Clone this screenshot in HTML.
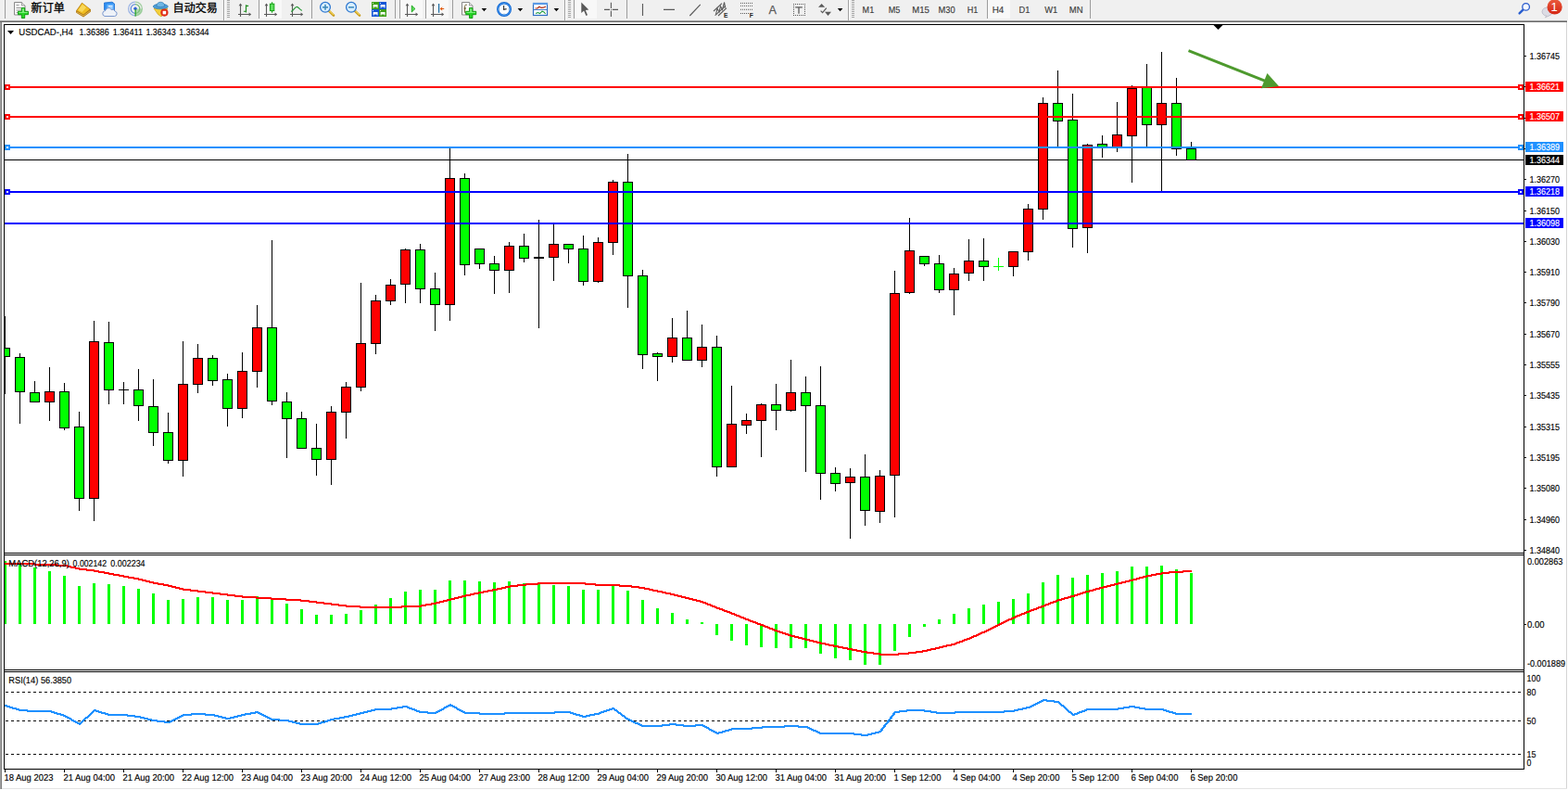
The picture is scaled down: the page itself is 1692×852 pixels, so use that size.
<!DOCTYPE html>
<html><head><meta charset="utf-8"><title>USDCAD-,H4</title>
<style>
html,body{margin:0;padding:0;background:#fff;overflow:hidden}
body{width:1692px;height:852px;position:relative;font-family:"Liberation Sans",sans-serif}
svg{position:absolute;left:0;top:0;display:block}
svg text{font-family:"Liberation Sans",sans-serif;white-space:pre}
</style></head><body>
<svg width="1692" height="852" viewBox="0 0 1692 852" shape-rendering="crispEdges">
<rect x="0" y="0" width="1692" height="22" fill="#f0f0f0"/>
<rect x="0" y="22" width="1691" height="1" fill="#a0a0a0"/>
<rect x="0" y="23" width="1691" height="1" fill="#696969"/>
<rect x="0" y="24" width="1" height="827" fill="#a0a0a0"/>
<rect x="1" y="24" width="1" height="827" fill="#808080"/>
<rect x="1690" y="24" width="1" height="827" fill="#d4d4d4"/>
<rect x="2" y="850" width="1689" height="1" fill="#e3e3e3"/>
<rect x="5" y="172" width="1639" height="1" fill="#000"/>
<g id="candles">
<rect x="5" y="341" width="1" height="84" fill="#000"/>
<rect x="5" y="375" width="6" height="10" fill="#000"/>
<rect x="5" y="376" width="5" height="8" fill="#00ff00"/>
<rect x="21" y="381" width="1" height="76" fill="#000"/>
<rect x="16" y="385" width="11" height="38" fill="#000"/>
<rect x="17" y="386" width="9" height="36" fill="#00ff00"/>
<rect x="37" y="411" width="1" height="23" fill="#000"/>
<rect x="32" y="423" width="11" height="11" fill="#000"/>
<rect x="33" y="424" width="9" height="9" fill="#00ff00"/>
<rect x="53" y="396" width="1" height="58" fill="#000"/>
<rect x="48" y="422" width="11" height="12" fill="#000"/>
<rect x="49" y="423" width="9" height="10" fill="#ff0000"/>
<rect x="69" y="413" width="1" height="51" fill="#000"/>
<rect x="64" y="422" width="11" height="40" fill="#000"/>
<rect x="65" y="423" width="9" height="38" fill="#00ff00"/>
<rect x="85" y="444" width="1" height="107" fill="#000"/>
<rect x="80" y="460" width="11" height="78" fill="#000"/>
<rect x="81" y="461" width="9" height="76" fill="#00ff00"/>
<rect x="101" y="346" width="1" height="216" fill="#000"/>
<rect x="96" y="368" width="11" height="170" fill="#000"/>
<rect x="97" y="369" width="9" height="168" fill="#ff0000"/>
<rect x="117" y="347" width="1" height="89" fill="#000"/>
<rect x="112" y="369" width="11" height="52" fill="#000"/>
<rect x="113" y="370" width="9" height="50" fill="#00ff00"/>
<rect x="133" y="412" width="1" height="24" fill="#000"/>
<rect x="128" y="420" width="11" height="1" fill="#000"/>
<rect x="149" y="398" width="1" height="56" fill="#000"/>
<rect x="144" y="420" width="11" height="18" fill="#000"/>
<rect x="145" y="421" width="9" height="16" fill="#00ff00"/>
<rect x="165" y="409" width="1" height="72" fill="#000"/>
<rect x="160" y="438" width="11" height="29" fill="#000"/>
<rect x="161" y="439" width="9" height="27" fill="#00ff00"/>
<rect x="181" y="445" width="1" height="55" fill="#000"/>
<rect x="176" y="466" width="11" height="31" fill="#000"/>
<rect x="177" y="467" width="9" height="29" fill="#00ff00"/>
<rect x="197" y="368" width="1" height="146" fill="#000"/>
<rect x="192" y="414" width="11" height="83" fill="#000"/>
<rect x="193" y="415" width="9" height="81" fill="#ff0000"/>
<rect x="213" y="371" width="1" height="53" fill="#000"/>
<rect x="208" y="386" width="11" height="29" fill="#000"/>
<rect x="209" y="387" width="9" height="27" fill="#ff0000"/>
<rect x="229" y="383" width="1" height="33" fill="#000"/>
<rect x="224" y="386" width="11" height="25" fill="#000"/>
<rect x="225" y="387" width="9" height="23" fill="#00ff00"/>
<rect x="245" y="403" width="1" height="57" fill="#000"/>
<rect x="240" y="409" width="11" height="32" fill="#000"/>
<rect x="241" y="410" width="9" height="30" fill="#00ff00"/>
<rect x="261" y="380" width="1" height="71" fill="#000"/>
<rect x="256" y="400" width="11" height="41" fill="#000"/>
<rect x="257" y="401" width="9" height="39" fill="#ff0000"/>
<rect x="277" y="329" width="1" height="89" fill="#000"/>
<rect x="272" y="353" width="11" height="48" fill="#000"/>
<rect x="273" y="354" width="9" height="46" fill="#ff0000"/>
<rect x="293" y="259" width="1" height="178" fill="#000"/>
<rect x="288" y="353" width="11" height="80" fill="#000"/>
<rect x="289" y="354" width="9" height="78" fill="#00ff00"/>
<rect x="309" y="423" width="1" height="71" fill="#000"/>
<rect x="304" y="433" width="11" height="19" fill="#000"/>
<rect x="305" y="434" width="9" height="17" fill="#00ff00"/>
<rect x="325" y="444" width="1" height="40" fill="#000"/>
<rect x="320" y="451" width="11" height="33" fill="#000"/>
<rect x="321" y="452" width="9" height="31" fill="#00ff00"/>
<rect x="341" y="457" width="1" height="56" fill="#000"/>
<rect x="336" y="483" width="11" height="13" fill="#000"/>
<rect x="337" y="484" width="9" height="11" fill="#00ff00"/>
<rect x="357" y="438" width="1" height="85" fill="#000"/>
<rect x="352" y="444" width="11" height="52" fill="#000"/>
<rect x="353" y="445" width="9" height="50" fill="#ff0000"/>
<rect x="373" y="412" width="1" height="61" fill="#000"/>
<rect x="368" y="417" width="11" height="28" fill="#000"/>
<rect x="369" y="418" width="9" height="26" fill="#ff0000"/>
<rect x="389" y="305" width="1" height="117" fill="#000"/>
<rect x="384" y="370" width="11" height="48" fill="#000"/>
<rect x="385" y="371" width="9" height="46" fill="#ff0000"/>
<rect x="405" y="318" width="1" height="64" fill="#000"/>
<rect x="400" y="324" width="11" height="47" fill="#000"/>
<rect x="401" y="325" width="9" height="45" fill="#ff0000"/>
<rect x="421" y="301" width="1" height="28" fill="#000"/>
<rect x="416" y="307" width="11" height="18" fill="#000"/>
<rect x="417" y="308" width="9" height="16" fill="#ff0000"/>
<rect x="437" y="268" width="1" height="59" fill="#000"/>
<rect x="432" y="269" width="11" height="38" fill="#000"/>
<rect x="433" y="270" width="9" height="36" fill="#ff0000"/>
<rect x="453" y="263" width="1" height="64" fill="#000"/>
<rect x="448" y="269" width="11" height="43" fill="#000"/>
<rect x="449" y="270" width="9" height="41" fill="#00ff00"/>
<rect x="469" y="294" width="1" height="63" fill="#000"/>
<rect x="464" y="311" width="11" height="18" fill="#000"/>
<rect x="465" y="312" width="9" height="16" fill="#00ff00"/>
<rect x="485" y="160" width="1" height="186" fill="#000"/>
<rect x="480" y="192" width="11" height="137" fill="#000"/>
<rect x="481" y="193" width="9" height="135" fill="#ff0000"/>
<rect x="501" y="187" width="1" height="110" fill="#000"/>
<rect x="496" y="192" width="11" height="94" fill="#000"/>
<rect x="497" y="193" width="9" height="92" fill="#00ff00"/>
<rect x="517" y="268" width="1" height="22" fill="#000"/>
<rect x="512" y="268" width="11" height="17" fill="#000"/>
<rect x="513" y="269" width="9" height="15" fill="#00ff00"/>
<rect x="533" y="276" width="1" height="41" fill="#000"/>
<rect x="528" y="284" width="11" height="8" fill="#000"/>
<rect x="529" y="285" width="9" height="6" fill="#00ff00"/>
<rect x="549" y="261" width="1" height="55" fill="#000"/>
<rect x="544" y="265" width="11" height="27" fill="#000"/>
<rect x="545" y="266" width="9" height="25" fill="#ff0000"/>
<rect x="565" y="252" width="1" height="31" fill="#000"/>
<rect x="560" y="265" width="11" height="14" fill="#000"/>
<rect x="561" y="266" width="9" height="12" fill="#00ff00"/>
<rect x="581" y="237" width="1" height="117" fill="#000"/>
<rect x="576" y="277" width="11" height="2" fill="#000"/>
<rect x="597" y="242" width="1" height="61" fill="#000"/>
<rect x="592" y="263" width="11" height="15" fill="#000"/>
<rect x="593" y="264" width="9" height="13" fill="#ff0000"/>
<rect x="613" y="263" width="1" height="21" fill="#000"/>
<rect x="608" y="263" width="11" height="6" fill="#000"/>
<rect x="609" y="264" width="9" height="4" fill="#00ff00"/>
<rect x="629" y="254" width="1" height="54" fill="#000"/>
<rect x="624" y="268" width="11" height="36" fill="#000"/>
<rect x="625" y="269" width="9" height="34" fill="#00ff00"/>
<rect x="645" y="256" width="1" height="49" fill="#000"/>
<rect x="640" y="261" width="11" height="43" fill="#000"/>
<rect x="641" y="262" width="9" height="41" fill="#ff0000"/>
<rect x="661" y="194" width="1" height="81" fill="#000"/>
<rect x="656" y="196" width="11" height="66" fill="#000"/>
<rect x="657" y="197" width="9" height="64" fill="#ff0000"/>
<rect x="677" y="166" width="1" height="166" fill="#000"/>
<rect x="672" y="196" width="11" height="102" fill="#000"/>
<rect x="673" y="197" width="9" height="100" fill="#00ff00"/>
<rect x="693" y="291" width="1" height="107" fill="#000"/>
<rect x="688" y="297" width="11" height="86" fill="#000"/>
<rect x="689" y="298" width="9" height="84" fill="#00ff00"/>
<rect x="709" y="380" width="1" height="31" fill="#000"/>
<rect x="704" y="381" width="11" height="4" fill="#000"/>
<rect x="705" y="382" width="9" height="2" fill="#00ff00"/>
<rect x="725" y="343" width="1" height="48" fill="#000"/>
<rect x="720" y="364" width="11" height="21" fill="#000"/>
<rect x="721" y="365" width="9" height="19" fill="#ff0000"/>
<rect x="741" y="335" width="1" height="54" fill="#000"/>
<rect x="736" y="364" width="11" height="25" fill="#000"/>
<rect x="737" y="365" width="9" height="23" fill="#00ff00"/>
<rect x="757" y="350" width="1" height="46" fill="#000"/>
<rect x="752" y="374" width="11" height="15" fill="#000"/>
<rect x="753" y="375" width="9" height="13" fill="#ff0000"/>
<rect x="773" y="362" width="1" height="152" fill="#000"/>
<rect x="768" y="374" width="11" height="130" fill="#000"/>
<rect x="769" y="375" width="9" height="128" fill="#00ff00"/>
<rect x="789" y="416" width="1" height="88" fill="#000"/>
<rect x="784" y="457" width="11" height="47" fill="#000"/>
<rect x="785" y="458" width="9" height="45" fill="#ff0000"/>
<rect x="805" y="446" width="1" height="22" fill="#000"/>
<rect x="800" y="453" width="11" height="6" fill="#000"/>
<rect x="801" y="454" width="9" height="4" fill="#ff0000"/>
<rect x="821" y="435" width="1" height="58" fill="#000"/>
<rect x="816" y="436" width="11" height="18" fill="#000"/>
<rect x="817" y="437" width="9" height="16" fill="#ff0000"/>
<rect x="837" y="414" width="1" height="50" fill="#000"/>
<rect x="832" y="436" width="11" height="7" fill="#000"/>
<rect x="833" y="437" width="9" height="5" fill="#00ff00"/>
<rect x="853" y="388" width="1" height="56" fill="#000"/>
<rect x="848" y="423" width="11" height="20" fill="#000"/>
<rect x="849" y="424" width="9" height="18" fill="#ff0000"/>
<rect x="869" y="406" width="1" height="103" fill="#000"/>
<rect x="864" y="423" width="11" height="15" fill="#000"/>
<rect x="865" y="424" width="9" height="13" fill="#00ff00"/>
<rect x="885" y="395" width="1" height="144" fill="#000"/>
<rect x="880" y="437" width="11" height="74" fill="#000"/>
<rect x="881" y="438" width="9" height="72" fill="#00ff00"/>
<rect x="901" y="504" width="1" height="26" fill="#000"/>
<rect x="896" y="510" width="11" height="12" fill="#000"/>
<rect x="897" y="511" width="9" height="10" fill="#00ff00"/>
<rect x="917" y="505" width="1" height="76" fill="#000"/>
<rect x="912" y="514" width="11" height="7" fill="#000"/>
<rect x="913" y="515" width="9" height="5" fill="#ff0000"/>
<rect x="933" y="490" width="1" height="77" fill="#000"/>
<rect x="928" y="514" width="11" height="37" fill="#000"/>
<rect x="929" y="515" width="9" height="35" fill="#00ff00"/>
<rect x="949" y="507" width="1" height="57" fill="#000"/>
<rect x="944" y="513" width="11" height="39" fill="#000"/>
<rect x="945" y="514" width="9" height="37" fill="#ff0000"/>
<rect x="965" y="292" width="1" height="266" fill="#000"/>
<rect x="960" y="316" width="11" height="197" fill="#000"/>
<rect x="961" y="317" width="9" height="195" fill="#ff0000"/>
<rect x="981" y="235" width="1" height="82" fill="#000"/>
<rect x="976" y="270" width="11" height="46" fill="#000"/>
<rect x="977" y="271" width="9" height="44" fill="#ff0000"/>
<rect x="997" y="276" width="1" height="11" fill="#000"/>
<rect x="992" y="276" width="11" height="9" fill="#000"/>
<rect x="993" y="277" width="9" height="7" fill="#00ff00"/>
<rect x="1013" y="275" width="1" height="41" fill="#000"/>
<rect x="1008" y="284" width="11" height="29" fill="#000"/>
<rect x="1009" y="285" width="9" height="27" fill="#00ff00"/>
<rect x="1029" y="289" width="1" height="51" fill="#000"/>
<rect x="1024" y="295" width="11" height="18" fill="#000"/>
<rect x="1025" y="296" width="9" height="16" fill="#ff0000"/>
<rect x="1045" y="258" width="1" height="45" fill="#000"/>
<rect x="1040" y="281" width="11" height="14" fill="#000"/>
<rect x="1041" y="282" width="9" height="12" fill="#ff0000"/>
<rect x="1061" y="257" width="1" height="46" fill="#000"/>
<rect x="1056" y="281" width="11" height="7" fill="#000"/>
<rect x="1057" y="282" width="9" height="5" fill="#00ff00"/>
<rect x="1077" y="278" width="1" height="14" fill="#00ff00"/>
<rect x="1072" y="287" width="11" height="1" fill="#00ff00"/>
<rect x="1093" y="271" width="1" height="27" fill="#000"/>
<rect x="1088" y="271" width="11" height="17" fill="#000"/>
<rect x="1089" y="272" width="9" height="15" fill="#ff0000"/>
<rect x="1109" y="220" width="1" height="61" fill="#000"/>
<rect x="1104" y="225" width="11" height="47" fill="#000"/>
<rect x="1105" y="226" width="9" height="45" fill="#ff0000"/>
<rect x="1125" y="105" width="1" height="132" fill="#000"/>
<rect x="1120" y="111" width="11" height="115" fill="#000"/>
<rect x="1121" y="112" width="9" height="113" fill="#ff0000"/>
<rect x="1141" y="76" width="1" height="82" fill="#000"/>
<rect x="1136" y="111" width="11" height="20" fill="#000"/>
<rect x="1137" y="112" width="9" height="18" fill="#00ff00"/>
<rect x="1157" y="101" width="1" height="166" fill="#000"/>
<rect x="1152" y="129" width="11" height="118" fill="#000"/>
<rect x="1153" y="130" width="9" height="116" fill="#00ff00"/>
<rect x="1173" y="155" width="1" height="118" fill="#000"/>
<rect x="1168" y="156" width="11" height="90" fill="#000"/>
<rect x="1169" y="157" width="9" height="88" fill="#ff0000"/>
<rect x="1189" y="146" width="1" height="24" fill="#000"/>
<rect x="1184" y="155" width="11" height="4" fill="#000"/>
<rect x="1185" y="156" width="9" height="2" fill="#00ff00"/>
<rect x="1205" y="110" width="1" height="54" fill="#000"/>
<rect x="1200" y="145" width="11" height="14" fill="#000"/>
<rect x="1201" y="146" width="9" height="12" fill="#ff0000"/>
<rect x="1221" y="92" width="1" height="105" fill="#000"/>
<rect x="1216" y="95" width="11" height="52" fill="#000"/>
<rect x="1217" y="96" width="9" height="50" fill="#ff0000"/>
<rect x="1237" y="69" width="1" height="89" fill="#000"/>
<rect x="1232" y="94" width="11" height="41" fill="#000"/>
<rect x="1233" y="95" width="9" height="39" fill="#00ff00"/>
<rect x="1253" y="56" width="1" height="150" fill="#000"/>
<rect x="1248" y="111" width="11" height="24" fill="#000"/>
<rect x="1249" y="112" width="9" height="22" fill="#ff0000"/>
<rect x="1269" y="84" width="1" height="84" fill="#000"/>
<rect x="1264" y="111" width="11" height="50" fill="#000"/>
<rect x="1265" y="112" width="9" height="48" fill="#00ff00"/>
<rect x="1285" y="153" width="1" height="20" fill="#000"/>
<rect x="1280" y="160" width="11" height="13" fill="#000"/>
<rect x="1281" y="161" width="9" height="11" fill="#00ff00"/>
</g>
<rect x="5" y="93" width="1639" height="2" fill="#ff0000"/>
<rect x="5" y="91" width="6" height="6" fill="#ff0000"/>
<rect x="7" y="93" width="2" height="2" fill="#fff"/>
<rect x="1638" y="91" width="6" height="6" fill="#ff0000"/>
<rect x="1640" y="93" width="2" height="2" fill="#fff"/>
<rect x="5" y="125" width="1639" height="2" fill="#ff0000"/>
<rect x="5" y="123" width="6" height="6" fill="#ff0000"/>
<rect x="7" y="125" width="2" height="2" fill="#fff"/>
<rect x="1638" y="123" width="6" height="6" fill="#ff0000"/>
<rect x="1640" y="125" width="2" height="2" fill="#fff"/>
<rect x="5" y="158" width="1639" height="2" fill="#1e90ff"/>
<rect x="5" y="156" width="6" height="6" fill="#1e90ff"/>
<rect x="7" y="158" width="2" height="2" fill="#fff"/>
<rect x="1638" y="156" width="6" height="6" fill="#1e90ff"/>
<rect x="1640" y="158" width="2" height="2" fill="#fff"/>
<rect x="5" y="206" width="1639" height="2" fill="#0000ff"/>
<rect x="5" y="204" width="6" height="6" fill="#0000ff"/>
<rect x="7" y="206" width="2" height="2" fill="#fff"/>
<rect x="1638" y="204" width="6" height="6" fill="#0000ff"/>
<rect x="1640" y="206" width="2" height="2" fill="#fff"/>
<rect x="5" y="240" width="1639" height="2" fill="#0000ff"/>
<g id="arrow" shape-rendering="auto"><line x1="1282.5" y1="54.6" x2="1366" y2="87.6" stroke="#4e9a2e" stroke-width="3"/><polygon points="1380,92.9 1367.4,79 1361,95.3" fill="#4e9a2e"/></g>
<rect x="5" y="605" width="2" height="68" fill="#00ff00"/>
<rect x="20" y="608" width="3" height="65" fill="#00ff00"/>
<rect x="36" y="612" width="3" height="61" fill="#00ff00"/>
<rect x="52" y="616" width="3" height="57" fill="#00ff00"/>
<rect x="68" y="621" width="3" height="52" fill="#00ff00"/>
<rect x="84" y="632" width="3" height="41" fill="#00ff00"/>
<rect x="100" y="629" width="3" height="44" fill="#00ff00"/>
<rect x="116" y="630" width="3" height="43" fill="#00ff00"/>
<rect x="132" y="632" width="3" height="41" fill="#00ff00"/>
<rect x="148" y="635" width="3" height="38" fill="#00ff00"/>
<rect x="164" y="640" width="3" height="33" fill="#00ff00"/>
<rect x="180" y="647" width="3" height="26" fill="#00ff00"/>
<rect x="196" y="646" width="3" height="27" fill="#00ff00"/>
<rect x="212" y="644" width="3" height="29" fill="#00ff00"/>
<rect x="228" y="644" width="3" height="29" fill="#00ff00"/>
<rect x="244" y="647" width="3" height="26" fill="#00ff00"/>
<rect x="260" y="647" width="3" height="26" fill="#00ff00"/>
<rect x="276" y="643" width="3" height="30" fill="#00ff00"/>
<rect x="292" y="646" width="3" height="27" fill="#00ff00"/>
<rect x="308" y="651" width="3" height="22" fill="#00ff00"/>
<rect x="324" y="657" width="3" height="16" fill="#00ff00"/>
<rect x="340" y="663" width="3" height="10" fill="#00ff00"/>
<rect x="356" y="663" width="3" height="10" fill="#00ff00"/>
<rect x="372" y="662" width="3" height="11" fill="#00ff00"/>
<rect x="388" y="658" width="3" height="15" fill="#00ff00"/>
<rect x="404" y="652" width="3" height="21" fill="#00ff00"/>
<rect x="420" y="645" width="3" height="28" fill="#00ff00"/>
<rect x="436" y="638" width="3" height="35" fill="#00ff00"/>
<rect x="452" y="636" width="3" height="37" fill="#00ff00"/>
<rect x="468" y="636" width="3" height="37" fill="#00ff00"/>
<rect x="484" y="626" width="3" height="47" fill="#00ff00"/>
<rect x="500" y="626" width="3" height="47" fill="#00ff00"/>
<rect x="516" y="627" width="3" height="46" fill="#00ff00"/>
<rect x="532" y="628" width="3" height="45" fill="#00ff00"/>
<rect x="548" y="627" width="3" height="46" fill="#00ff00"/>
<rect x="564" y="629" width="3" height="44" fill="#00ff00"/>
<rect x="580" y="630" width="3" height="43" fill="#00ff00"/>
<rect x="596" y="631" width="3" height="42" fill="#00ff00"/>
<rect x="612" y="632" width="3" height="41" fill="#00ff00"/>
<rect x="628" y="636" width="3" height="37" fill="#00ff00"/>
<rect x="644" y="636" width="3" height="37" fill="#00ff00"/>
<rect x="660" y="632" width="3" height="41" fill="#00ff00"/>
<rect x="676" y="637" width="3" height="36" fill="#00ff00"/>
<rect x="692" y="647" width="3" height="26" fill="#00ff00"/>
<rect x="708" y="656" width="3" height="17" fill="#00ff00"/>
<rect x="724" y="661" width="3" height="12" fill="#00ff00"/>
<rect x="740" y="668" width="3" height="5" fill="#00ff00"/>
<rect x="756" y="671" width="3" height="2" fill="#00ff00"/>
<rect x="772" y="673" width="3" height="12" fill="#00ff00"/>
<rect x="788" y="673" width="3" height="18" fill="#00ff00"/>
<rect x="804" y="673" width="3" height="23" fill="#00ff00"/>
<rect x="820" y="673" width="3" height="25" fill="#00ff00"/>
<rect x="836" y="673" width="3" height="26" fill="#00ff00"/>
<rect x="852" y="673" width="3" height="26" fill="#00ff00"/>
<rect x="868" y="673" width="3" height="26" fill="#00ff00"/>
<rect x="884" y="673" width="3" height="32" fill="#00ff00"/>
<rect x="900" y="673" width="3" height="37" fill="#00ff00"/>
<rect x="916" y="673" width="3" height="39" fill="#00ff00"/>
<rect x="932" y="673" width="3" height="44" fill="#00ff00"/>
<rect x="948" y="673" width="3" height="44" fill="#00ff00"/>
<rect x="964" y="673" width="3" height="29" fill="#00ff00"/>
<rect x="980" y="673" width="3" height="14" fill="#00ff00"/>
<rect x="996" y="673" width="3" height="3" fill="#00ff00"/>
<rect x="1012" y="668" width="3" height="5" fill="#00ff00"/>
<rect x="1028" y="662" width="3" height="11" fill="#00ff00"/>
<rect x="1044" y="656" width="3" height="17" fill="#00ff00"/>
<rect x="1060" y="652" width="3" height="21" fill="#00ff00"/>
<rect x="1076" y="649" width="3" height="24" fill="#00ff00"/>
<rect x="1092" y="646" width="3" height="27" fill="#00ff00"/>
<rect x="1108" y="640" width="3" height="33" fill="#00ff00"/>
<rect x="1124" y="628" width="3" height="45" fill="#00ff00"/>
<rect x="1140" y="620" width="3" height="53" fill="#00ff00"/>
<rect x="1156" y="623" width="3" height="50" fill="#00ff00"/>
<rect x="1172" y="620" width="3" height="53" fill="#00ff00"/>
<rect x="1188" y="618" width="3" height="55" fill="#00ff00"/>
<rect x="1204" y="616" width="3" height="57" fill="#00ff00"/>
<rect x="1220" y="611" width="3" height="62" fill="#00ff00"/>
<rect x="1236" y="611" width="3" height="62" fill="#00ff00"/>
<rect x="1252" y="610" width="3" height="63" fill="#00ff00"/>
<rect x="1268" y="614" width="3" height="59" fill="#00ff00"/>
<rect x="1284" y="618" width="3" height="55" fill="#00ff00"/>
<path d="M5 607h33v1h-33zM5 608h57v1h-57zM37 609h36v1h-36zM61 610h16v1h-16zM72 611h10v1h-10zM76 612h10v1h-10zM81 613h13v1h-13zM85 614h17v1h-17zM93 615h14v1h-14zM1276 615h10v1h-10zM101 616h12v1h-12zM1261 616h25v1h-25zM106 617h12v1h-12zM1253 617h24v1h-24zM112 618h11v1h-11zM1247 618h15v1h-15zM117 619h12v1h-12zM1242 619h12v1h-12zM122 620h12v1h-12zM1237 620h11v1h-11zM128 621h11v1h-11zM1233 621h10v1h-10zM133 622h12v1h-12zM1229 622h9v1h-9zM138 623h12v1h-12zM1226 623h8v1h-8zM144 624h10v1h-10zM1222 624h8v1h-8zM149 625h9v1h-9zM1218 625h9v1h-9zM153 626h9v1h-9zM1214 626h9v1h-9zM157 627h9v1h-9zM1210 627h9v1h-9zM161 628h10v1h-10zM580 628h52v1h-52zM1206 628h9v1h-9zM165 629h12v1h-12zM567 629h76v1h-76zM1202 629h9v1h-9zM170 630h12v1h-12zM558 630h23v1h-23zM631 630h38v1h-38zM1198 630h9v1h-9zM176 631h10v1h-10zM550 631h18v1h-18zM642 631h40v1h-40zM1194 631h9v1h-9zM181 632h9v1h-9zM545 632h14v1h-14zM668 632h22v1h-22zM1190 632h9v1h-9zM185 633h9v1h-9zM541 633h10v1h-10zM681 633h15v1h-15zM1186 633h9v1h-9zM189 634h9v1h-9zM536 634h10v1h-10zM689 634h12v1h-12zM1182 634h9v1h-9zM193 635h13v1h-13zM531 635h11v1h-11zM695 635h10v1h-10zM1179 635h8v1h-8zM197 636h17v1h-17zM526 636h11v1h-11zM700 636h10v1h-10zM1175 636h8v1h-8zM205 637h17v1h-17zM521 637h11v1h-11zM704 637h11v1h-11zM1171 637h9v1h-9zM213 638h17v1h-17zM516 638h11v1h-11zM709 638h10v1h-10zM1168 638h8v1h-8zM221 639h17v1h-17zM511 639h11v1h-11zM714 639h10v1h-10zM1165 639h7v1h-7zM229 640h17v1h-17zM507 640h10v1h-10zM718 640h10v1h-10zM1162 640h7v1h-7zM237 641h17v1h-17zM502 641h10v1h-10zM723 641h9v1h-9zM1159 641h7v1h-7zM245 642h17v1h-17zM498 642h10v1h-10zM727 642h9v1h-9zM1155 642h8v1h-8zM253 643h24v1h-24zM494 643h9v1h-9zM731 643h9v1h-9zM1152 643h8v1h-8zM261 644h32v1h-32zM490 644h9v1h-9zM735 644h9v1h-9zM1148 644h8v1h-8zM276 645h33v1h-33zM486 645h9v1h-9zM739 645h9v1h-9zM1145 645h8v1h-8zM292 646h33v1h-33zM482 646h9v1h-9zM743 646h9v1h-9zM1141 646h8v1h-8zM308 647h26v1h-26zM478 647h9v1h-9zM747 647h9v1h-9zM1139 647h7v1h-7zM324 648h18v1h-18zM474 648h9v1h-9zM751 648h8v1h-8zM1136 648h6v1h-6zM333 649h17v1h-17zM470 649h9v1h-9zM755 649h7v1h-7zM1133 649h7v1h-7zM341 650h17v1h-17zM465 650h10v1h-10zM758 650h6v1h-6zM1131 650h6v1h-6zM349 651h17v1h-17zM459 651h12v1h-12zM761 651h6v1h-6zM1128 651h6v1h-6zM357 652h17v1h-17zM454 652h12v1h-12zM763 652h6v1h-6zM1126 652h6v1h-6zM365 653h24v1h-24zM433 653h27v1h-27zM766 653h6v1h-6zM1123 653h6v1h-6zM373 654h82v1h-82zM768 654h6v1h-6zM1120 654h7v1h-7zM388 655h46v1h-46zM771 655h6v1h-6zM1118 655h6v1h-6zM773 656h7v1h-7zM1115 656h6v1h-6zM776 657h6v1h-6zM1112 657h7v1h-7zM779 658h6v1h-6zM1110 658h6v1h-6zM781 659h7v1h-7zM1107 659h6v1h-6zM784 660h6v1h-6zM1105 660h6v1h-6zM787 661h6v1h-6zM1102 661h6v1h-6zM789 662h6v1h-6zM1100 662h6v1h-6zM792 663h6v1h-6zM1097 663h6v1h-6zM794 664h6v1h-6zM1095 664h6v1h-6zM797 665h6v1h-6zM1093 665h5v1h-5zM799 666h6v1h-6zM1091 666h5v1h-5zM802 667h6v1h-6zM1088 667h6v1h-6zM804 668h6v1h-6zM1086 668h6v1h-6zM807 669h6v1h-6zM1084 669h5v1h-5zM809 670h7v1h-7zM1082 670h5v1h-5zM812 671h6v1h-6zM1080 671h5v1h-5zM815 672h6v1h-6zM1078 672h5v1h-5zM817 673h7v1h-7zM1076 673h5v1h-5zM820 674h6v1h-6zM1074 674h5v1h-5zM823 675h6v1h-6zM1072 675h5v1h-5zM825 676h6v1h-6zM1070 676h5v1h-5zM828 677h6v1h-6zM1068 677h5v1h-5zM830 678h6v1h-6zM1066 678h5v1h-5zM833 679h6v1h-6zM1064 679h5v1h-5zM835 680h7v1h-7zM1062 680h5v1h-5zM838 681h7v1h-7zM1059 681h6v1h-6zM841 682h7v1h-7zM1057 682h6v1h-6zM844 683h7v1h-7zM1055 683h5v1h-5zM847 684h7v1h-7zM1053 684h5v1h-5zM850 685h8v1h-8zM1050 685h6v1h-6zM853 686h9v1h-9zM1048 686h6v1h-6zM857 687h9v1h-9zM1046 687h5v1h-5zM861 688h9v1h-9zM1043 688h6v1h-6zM865 689h9v1h-9zM1040 689h7v1h-7zM869 690h9v1h-9zM1038 690h6v1h-6zM873 691h9v1h-9zM1035 691h6v1h-6zM877 692h9v1h-9zM1032 692h7v1h-7zM881 693h10v1h-10zM1030 693h6v1h-6zM885 694h10v1h-10zM1026 694h7v1h-7zM890 695h10v1h-10zM1021 695h10v1h-10zM894 696h11v1h-11zM1017 696h10v1h-10zM899 697h11v1h-11zM1013 697h9v1h-9zM904 698h11v1h-11zM1009 698h9v1h-9zM909 699h11v1h-11zM1004 699h10v1h-10zM914 700h11v1h-11zM1000 700h10v1h-10zM919 701h11v1h-11zM995 701h10v1h-10zM924 702h12v1h-12zM988 702h13v1h-13zM929 703h14v1h-14zM980 703h16v1h-16zM935 704h15v1h-15zM969 704h20v1h-20zM942 705h39v1h-39zM949 706h21v1h-21z" fill="#ff0000"/>
<line x1="6" y1="746.5" x2="1644" y2="746.5" stroke="#000" stroke-width="1" stroke-dasharray="3 3"/>
<line x1="6" y1="777.5" x2="1644" y2="777.5" stroke="#000" stroke-width="1" stroke-dasharray="3 3"/>
<line x1="6" y1="813.5" x2="1644" y2="813.5" stroke="#000" stroke-width="1" stroke-dasharray="3 3"/>
<path d="M1125 754h5v1h-5zM1123 755h15v1h-15zM1121 756h5v1h-5zM1129 756h14v1h-14zM1119 757h5v1h-5zM1137 757h7v1h-7zM1117 758h5v1h-5zM1142 758h3v1h-3zM485 759h2v1h-2zM1115 759h5v1h-5zM1143 759h3v1h-3zM5 760h3v1h-3zM483 760h6v1h-6zM1113 760h5v1h-5zM1144 760h4v1h-4zM5 761h6v1h-6zM434 761h6v1h-6zM481 761h10v1h-10zM1111 761h5v1h-5zM1145 761h4v1h-4zM1218 761h7v1h-7zM7 762h7v1h-7zM428 762h14v1h-14zM479 762h5v1h-5zM488 762h5v1h-5zM1107 762h7v1h-7zM1147 762h3v1h-3zM1212 762h18v1h-18zM10 763h8v1h-8zM422 763h13v1h-13zM439 763h6v1h-6zM478 763h4v1h-4zM490 763h4v1h-4zM660 763h3v1h-3zM1103 763h9v1h-9zM1148 763h3v1h-3zM1206 763h13v1h-13zM1224 763h12v1h-12zM13 764h8v1h-8zM404 764h25v1h-25zM441 764h7v1h-7zM476 764h4v1h-4zM492 764h4v1h-4zM657 764h7v1h-7zM1098 764h10v1h-10zM1149 764h3v1h-3zM1172 764h41v1h-41zM1229 764h27v1h-27zM17 765h13v1h-13zM101 765h3v1h-3zM400 765h23v1h-23zM444 765h6v1h-6zM474 765h5v1h-5zM493 765h5v1h-5zM654 765h7v1h-7zM662 765h4v1h-4zM978 765h20v1h-20zM1094 765h10v1h-10zM1150 765h3v1h-3zM1170 765h37v1h-37zM1235 765h24v1h-24zM20 766h36v1h-36zM100 766h7v1h-7zM396 766h9v1h-9zM447 766h6v1h-6zM472 766h5v1h-5zM495 766h5v1h-5zM651 766h7v1h-7zM663 766h4v1h-4zM970 766h35v1h-35zM1083 766h16v1h-16zM1151 766h3v1h-3zM1167 766h6v1h-6zM1255 766h7v1h-7zM29 767h30v1h-30zM99 767h3v1h-3zM103 767h7v1h-7zM275 767h4v1h-4zM392 767h9v1h-9zM449 767h13v1h-13zM470 767h5v1h-5zM497 767h5v1h-5zM598 767h18v1h-18zM648 767h7v1h-7zM665 767h3v1h-3zM965 767h14v1h-14zM997 767h14v1h-14zM1030 767h65v1h-65zM1152 767h4v1h-4zM1164 767h7v1h-7zM1258 767h8v1h-8zM55 768h7v1h-7zM98 768h3v1h-3zM106 768h8v1h-8zM270 768h11v1h-11zM388 768h9v1h-9zM452 768h21v1h-21zM499 768h19v1h-19zM544 768h75v1h-75zM646 768h6v1h-6zM666 768h4v1h-4zM964 768h7v1h-7zM1004 768h80v1h-80zM1153 768h4v1h-4zM1162 768h6v1h-6zM1261 768h8v1h-8zM58 769h8v1h-8zM97 769h3v1h-3zM109 769h8v1h-8zM206 769h16v1h-16zM264 769h12v1h-12zM278 769h5v1h-5zM384 769h9v1h-9zM461 769h10v1h-10zM501 769h98v1h-98zM615 769h7v1h-7zM641 769h8v1h-8zM667 769h4v1h-4zM963 769h3v2h-3zM1010 769h21v1h-21zM1155 769h3v1h-3zM1159 769h6v1h-6zM1265 769h21v1h-21zM61 770h8v1h-8zM96 770h3v1h-3zM113 770h25v1h-25zM197 770h35v1h-35zM260 770h11v1h-11zM280 770h5v1h-5zM380 770h9v1h-9zM517 770h28v1h-28zM618 770h8v1h-8zM636 770h11v1h-11zM669 770h3v1h-3zM1156 770h7v1h-7zM1268 770h18v1h-18zM65 771h6v1h-6zM95 771h3v1h-3zM116 771h30v1h-30zM195 771h12v1h-12zM221 771h15v1h-15zM256 771h9v1h-9zM282 771h5v1h-5zM376 771h9v1h-9zM621 771h8v1h-8zM632 771h10v1h-10zM670 771h4v1h-4zM962 771h3v1h-3zM1157 771h3v1h-3zM68 772h5v1h-5zM94 772h3v1h-3zM137 772h15v1h-15zM193 772h5v1h-5zM231 772h9v1h-9zM252 772h9v1h-9zM284 772h5v1h-5zM371 772h10v1h-10zM625 772h12v1h-12zM671 772h4v1h-4zM961 772h3v1h-3zM70 773h5v1h-5zM92 773h4v1h-4zM145 773h11v1h-11zM191 773h5v1h-5zM235 773h9v1h-9zM248 773h9v1h-9zM286 773h5v1h-5zM366 773h11v1h-11zM628 773h5v1h-5zM673 773h3v1h-3zM960 773h3v2h-3zM72 774h5v1h-5zM91 774h4v1h-4zM151 774h9v1h-9zM189 774h5v1h-5zM239 774h14v1h-14zM288 774h5v1h-5zM360 774h12v1h-12zM674 774h4v1h-4zM74 775h4v1h-4zM90 775h3v1h-3zM155 775h9v1h-9zM187 775h5v1h-5zM243 775h6v1h-6zM290 775h12v1h-12zM356 775h11v1h-11zM675 775h5v1h-5zM959 775h3v1h-3zM76 776h4v1h-4zM89 776h3v1h-3zM159 776h11v1h-11zM185 776h5v1h-5zM292 776h20v1h-20zM353 776h8v1h-8zM677 776h5v1h-5zM958 776h3v1h-3zM77 777h5v1h-5zM88 777h3v1h-3zM163 777h15v1h-15zM183 777h5v1h-5zM301 777h15v1h-15zM350 777h7v1h-7zM679 777h5v1h-5zM957 777h3v2h-3zM79 778h5v1h-5zM87 778h3v1h-3zM169 778h17v1h-17zM311 778h9v1h-9zM346 778h8v1h-8zM681 778h5v1h-5zM81 779h8v1h-8zM177 779h7v1h-7zM315 779h9v1h-9zM343 779h8v1h-8zM683 779h6v1h-6zM956 779h3v1h-3zM83 780h5v1h-5zM319 780h28v1h-28zM685 780h6v1h-6zM722 780h8v1h-8zM955 780h3v1h-3zM85 781h2v1h-2zM323 781h21v1h-21zM688 781h5v1h-5zM714 781h24v1h-24zM750 781h9v1h-9zM954 781h3v1h-3zM690 782h33v1h-33zM729 782h32v1h-32zM846 782h16v1h-16zM953 782h3v2h-3zM692 783h23v1h-23zM737 783h14v1h-14zM758 783h5v1h-5zM822 783h50v1h-50zM760 784h5v1h-5zM811 784h36v1h-36zM861 784h13v1h-13zM952 784h3v1h-3zM762 785h4v1h-4zM789 785h34v1h-34zM871 785h5v1h-5zM951 785h3v1h-3zM764 786h4v1h-4zM786 786h26v1h-26zM873 786h5v1h-5zM950 786h3v2h-3zM765 787h5v1h-5zM782 787h8v1h-8zM875 787h6v1h-6zM767 788h5v1h-5zM779 788h8v1h-8zM877 788h6v1h-6zM948 788h4v1h-4zM769 789h5v1h-5zM775 789h8v1h-8zM880 789h5v1h-5zM944 789h7v1h-7zM771 790h9v1h-9zM882 790h40v1h-40zM940 790h9v1h-9zM773 791h3v1h-3zM884 791h46v1h-46zM936 791h9v1h-9zM921 792h20v1h-20zM929 793h8v1h-8z" fill="#1e90ff"/>
<rect x="4" y="26" width="1" height="804" fill="#000"/>
<rect x="1644" y="26" width="1" height="804" fill="#000"/>
<rect x="4" y="26" width="1641" height="1" fill="#000"/>
<rect x="4" y="596" width="1641" height="1" fill="#000"/>
<rect x="4" y="598" width="1641" height="1" fill="#000"/>
<rect x="4" y="722" width="1641" height="1" fill="#000"/>
<rect x="4" y="724" width="1641" height="1" fill="#000"/>
<rect x="4" y="829" width="1641" height="1" fill="#000"/>
<polygon points="1309.5,27 1319.5,27 1314.5,32" fill="#000" shape-rendering="auto"/>
<rect x="1645" y="60" width="2" height="1" fill="#000"/>
<text x="1650.4" y="64" fill="#000" font-size="10.17" textLength="32.6" lengthAdjust="spacingAndGlyphs" text-rendering="geometricPrecision" stroke="#000" stroke-width="0.15">1.36745</text>
<rect x="1645" y="93" width="2" height="1" fill="#000"/>
<rect x="1645" y="127" width="2" height="1" fill="#000"/>
<rect x="1645" y="160" width="2" height="1" fill="#000"/>
<rect x="1645" y="193" width="2" height="1" fill="#000"/>
<text x="1650.4" y="197" fill="#000" font-size="10.17" textLength="32.6" lengthAdjust="spacingAndGlyphs" text-rendering="geometricPrecision" stroke="#000" stroke-width="0.15">1.36270</text>
<rect x="1645" y="227" width="2" height="1" fill="#000"/>
<text x="1650.4" y="231" fill="#000" font-size="10.17" textLength="32.6" lengthAdjust="spacingAndGlyphs" text-rendering="geometricPrecision" stroke="#000" stroke-width="0.15">1.36150</text>
<rect x="1645" y="260" width="2" height="1" fill="#000"/>
<text x="1650.4" y="264" fill="#000" font-size="10.17" textLength="32.6" lengthAdjust="spacingAndGlyphs" text-rendering="geometricPrecision" stroke="#000" stroke-width="0.15">1.36030</text>
<rect x="1645" y="293" width="2" height="1" fill="#000"/>
<text x="1650.4" y="297" fill="#000" font-size="10.17" textLength="32.6" lengthAdjust="spacingAndGlyphs" text-rendering="geometricPrecision" stroke="#000" stroke-width="0.15">1.35910</text>
<rect x="1645" y="326" width="2" height="1" fill="#000"/>
<text x="1650.4" y="330" fill="#000" font-size="10.17" textLength="32.6" lengthAdjust="spacingAndGlyphs" text-rendering="geometricPrecision" stroke="#000" stroke-width="0.15">1.35790</text>
<rect x="1645" y="360" width="2" height="1" fill="#000"/>
<text x="1650.4" y="364" fill="#000" font-size="10.17" textLength="32.6" lengthAdjust="spacingAndGlyphs" text-rendering="geometricPrecision" stroke="#000" stroke-width="0.15">1.35670</text>
<rect x="1645" y="393" width="2" height="1" fill="#000"/>
<text x="1650.4" y="397" fill="#000" font-size="10.17" textLength="32.6" lengthAdjust="spacingAndGlyphs" text-rendering="geometricPrecision" stroke="#000" stroke-width="0.15">1.35555</text>
<rect x="1645" y="426" width="2" height="1" fill="#000"/>
<text x="1650.4" y="430" fill="#000" font-size="10.17" textLength="32.6" lengthAdjust="spacingAndGlyphs" text-rendering="geometricPrecision" stroke="#000" stroke-width="0.15">1.35435</text>
<rect x="1645" y="460" width="2" height="1" fill="#000"/>
<text x="1650.4" y="464" fill="#000" font-size="10.17" textLength="32.6" lengthAdjust="spacingAndGlyphs" text-rendering="geometricPrecision" stroke="#000" stroke-width="0.15">1.35315</text>
<rect x="1645" y="493" width="2" height="1" fill="#000"/>
<text x="1650.4" y="497" fill="#000" font-size="10.17" textLength="32.6" lengthAdjust="spacingAndGlyphs" text-rendering="geometricPrecision" stroke="#000" stroke-width="0.15">1.35195</text>
<rect x="1645" y="526" width="2" height="1" fill="#000"/>
<text x="1650.4" y="530" fill="#000" font-size="10.17" textLength="32.6" lengthAdjust="spacingAndGlyphs" text-rendering="geometricPrecision" stroke="#000" stroke-width="0.15">1.35080</text>
<rect x="1645" y="560" width="2" height="1" fill="#000"/>
<text x="1650.4" y="564" fill="#000" font-size="10.17" textLength="32.6" lengthAdjust="spacingAndGlyphs" text-rendering="geometricPrecision" stroke="#000" stroke-width="0.15">1.34960</text>
<rect x="1645" y="593" width="2" height="1" fill="#000"/>
<text x="1650.4" y="597" fill="#000" font-size="10.17" textLength="32.6" lengthAdjust="spacingAndGlyphs" text-rendering="geometricPrecision" stroke="#000" stroke-width="0.15">1.34840</text>
<rect x="1646" y="88" width="41" height="11" fill="#ff0000"/>
<text x="1650.4" y="97" fill="#fff" font-size="10.17" textLength="32.6" lengthAdjust="spacingAndGlyphs" text-rendering="geometricPrecision" stroke="#fff" stroke-width="0.15">1.36621</text>
<rect x="1646" y="120" width="41" height="11" fill="#ff0000"/>
<text x="1650.4" y="129" fill="#fff" font-size="10.17" textLength="32.6" lengthAdjust="spacingAndGlyphs" text-rendering="geometricPrecision" stroke="#fff" stroke-width="0.15">1.36507</text>
<rect x="1646" y="153" width="41" height="11" fill="#1e90ff"/>
<text x="1650.4" y="162" fill="#fff" font-size="10.17" textLength="32.6" lengthAdjust="spacingAndGlyphs" text-rendering="geometricPrecision" stroke="#fff" stroke-width="0.15">1.36389</text>
<rect x="1646" y="201" width="41" height="11" fill="#0000ff"/>
<text x="1650.4" y="210" fill="#fff" font-size="10.17" textLength="32.6" lengthAdjust="spacingAndGlyphs" text-rendering="geometricPrecision" stroke="#fff" stroke-width="0.15">1.36218</text>
<rect x="1646" y="235" width="41" height="11" fill="#0000ff"/>
<text x="1650.4" y="244" fill="#fff" font-size="10.17" textLength="32.6" lengthAdjust="spacingAndGlyphs" text-rendering="geometricPrecision" stroke="#fff" stroke-width="0.15">1.36098</text>
<rect x="1646" y="167" width="41" height="11" fill="#000"/>
<text x="1650.4" y="176" fill="#fff" font-size="10.17" textLength="32.6" lengthAdjust="spacingAndGlyphs" text-rendering="geometricPrecision" stroke="#fff" stroke-width="0.15">1.36344</text>
<text x="1648" y="609" fill="#000" font-size="10.17" textLength="38.4" lengthAdjust="spacingAndGlyphs" text-rendering="geometricPrecision" stroke="#000" stroke-width="0.15">0.002863</text>
<rect x="1645" y="673" width="2" height="1" fill="#000"/>
<text x="1648" y="677" fill="#000" font-size="10.17" textLength="18.6" lengthAdjust="spacingAndGlyphs" text-rendering="geometricPrecision" stroke="#000" stroke-width="0.15">0.00</text>
<text x="1647.9" y="719" fill="#000" font-size="10.17" textLength="41.2" lengthAdjust="spacingAndGlyphs" text-rendering="geometricPrecision" stroke="#000" stroke-width="0.15">-0.001889</text>
<text x="1647.6" y="735" fill="#000" font-size="10.17" textLength="14.8" lengthAdjust="spacingAndGlyphs" text-rendering="geometricPrecision" stroke="#000" stroke-width="0.15">100</text>
<text x="1647.6" y="750" fill="#000" font-size="10.17" textLength="9.9" lengthAdjust="spacingAndGlyphs" text-rendering="geometricPrecision" stroke="#000" stroke-width="0.15">80</text>
<text x="1647.6" y="781" fill="#000" font-size="10.17" textLength="9.9" lengthAdjust="spacingAndGlyphs" text-rendering="geometricPrecision" stroke="#000" stroke-width="0.15">50</text>
<text x="1647.6" y="817" fill="#000" font-size="10.17" textLength="9.9" lengthAdjust="spacingAndGlyphs" text-rendering="geometricPrecision" stroke="#000" stroke-width="0.15">15</text>
<text x="1647.6" y="826" fill="#000" font-size="10.17" textLength="4.9" lengthAdjust="spacingAndGlyphs" text-rendering="geometricPrecision" stroke="#000" stroke-width="0.15">0</text>
<polygon points="8,33 15,33 11.5,37" fill="#000" shape-rendering="auto"/>
<text x="20.3" y="38" fill="#000" font-size="10.17" textLength="58.5" lengthAdjust="spacingAndGlyphs" text-rendering="geometricPrecision" stroke="#000" stroke-width="0.15">USDCAD-,H4</text>
<text x="85.5" y="38" fill="#000" font-size="10.17" textLength="32.3" lengthAdjust="spacingAndGlyphs" text-rendering="geometricPrecision" stroke="#000" stroke-width="0.15">1.36386</text>
<text x="121.7" y="38" fill="#000" font-size="10.17" textLength="32.3" lengthAdjust="spacingAndGlyphs" text-rendering="geometricPrecision" stroke="#000" stroke-width="0.15">1.36411</text>
<text x="157.4" y="38" fill="#000" font-size="10.17" textLength="32.3" lengthAdjust="spacingAndGlyphs" text-rendering="geometricPrecision" stroke="#000" stroke-width="0.15">1.36343</text>
<text x="193.3" y="38" fill="#000" font-size="10.17" textLength="32.3" lengthAdjust="spacingAndGlyphs" text-rendering="geometricPrecision" stroke="#000" stroke-width="0.15">1.36344</text>
<text x="9.3" y="611" fill="#000" font-size="10.17" textLength="65.6" lengthAdjust="spacingAndGlyphs" text-rendering="geometricPrecision" stroke="#000" stroke-width="0.15">MACD(12,26,9)</text>
<text x="78.6" y="611" fill="#000" font-size="10.17" textLength="36.5" lengthAdjust="spacingAndGlyphs" text-rendering="geometricPrecision" stroke="#000" stroke-width="0.15">0.002142</text>
<text x="119.3" y="611" fill="#000" font-size="10.17" textLength="37.3" lengthAdjust="spacingAndGlyphs" text-rendering="geometricPrecision" stroke="#000" stroke-width="0.15">0.002234</text>
<text x="9.3" y="737" fill="#000" font-size="10.17" textLength="32.0" lengthAdjust="spacingAndGlyphs" text-rendering="geometricPrecision" stroke="#000" stroke-width="0.15">RSI(14)</text>
<text x="44" y="737" fill="#000" font-size="10.17" textLength="33.0" lengthAdjust="spacingAndGlyphs" text-rendering="geometricPrecision" stroke="#000" stroke-width="0.15">56.3850</text>
<rect x="5" y="830" width="1" height="3" fill="#000"/>
<text x="4.4" y="842" fill="#000" font-size="10.17" textLength="53.1" lengthAdjust="spacingAndGlyphs" text-rendering="geometricPrecision" stroke="#000" stroke-width="0.15">18 Aug 2023</text>
<rect x="69" y="830" width="1" height="3" fill="#000"/>
<text x="68.4" y="842" fill="#000" font-size="10.17" textLength="55.7" lengthAdjust="spacingAndGlyphs" text-rendering="geometricPrecision" stroke="#000" stroke-width="0.15">21 Aug 04:00</text>
<rect x="133" y="830" width="1" height="3" fill="#000"/>
<text x="132.4" y="842" fill="#000" font-size="10.17" textLength="55.7" lengthAdjust="spacingAndGlyphs" text-rendering="geometricPrecision" stroke="#000" stroke-width="0.15">21 Aug 20:00</text>
<rect x="197" y="830" width="1" height="3" fill="#000"/>
<text x="196.4" y="842" fill="#000" font-size="10.17" textLength="55.7" lengthAdjust="spacingAndGlyphs" text-rendering="geometricPrecision" stroke="#000" stroke-width="0.15">22 Aug 12:00</text>
<rect x="261" y="830" width="1" height="3" fill="#000"/>
<text x="260.4" y="842" fill="#000" font-size="10.17" textLength="55.7" lengthAdjust="spacingAndGlyphs" text-rendering="geometricPrecision" stroke="#000" stroke-width="0.15">23 Aug 04:00</text>
<rect x="325" y="830" width="1" height="3" fill="#000"/>
<text x="324.4" y="842" fill="#000" font-size="10.17" textLength="55.7" lengthAdjust="spacingAndGlyphs" text-rendering="geometricPrecision" stroke="#000" stroke-width="0.15">23 Aug 20:00</text>
<rect x="389" y="830" width="1" height="3" fill="#000"/>
<text x="388.4" y="842" fill="#000" font-size="10.17" textLength="55.7" lengthAdjust="spacingAndGlyphs" text-rendering="geometricPrecision" stroke="#000" stroke-width="0.15">24 Aug 12:00</text>
<rect x="453" y="830" width="1" height="3" fill="#000"/>
<text x="452.4" y="842" fill="#000" font-size="10.17" textLength="55.7" lengthAdjust="spacingAndGlyphs" text-rendering="geometricPrecision" stroke="#000" stroke-width="0.15">25 Aug 04:00</text>
<rect x="517" y="830" width="1" height="3" fill="#000"/>
<text x="516.4" y="842" fill="#000" font-size="10.17" textLength="55.7" lengthAdjust="spacingAndGlyphs" text-rendering="geometricPrecision" stroke="#000" stroke-width="0.15">27 Aug 23:00</text>
<rect x="581" y="830" width="1" height="3" fill="#000"/>
<text x="580.4" y="842" fill="#000" font-size="10.17" textLength="55.7" lengthAdjust="spacingAndGlyphs" text-rendering="geometricPrecision" stroke="#000" stroke-width="0.15">28 Aug 12:00</text>
<rect x="645" y="830" width="1" height="3" fill="#000"/>
<text x="644.4" y="842" fill="#000" font-size="10.17" textLength="55.7" lengthAdjust="spacingAndGlyphs" text-rendering="geometricPrecision" stroke="#000" stroke-width="0.15">29 Aug 04:00</text>
<rect x="709" y="830" width="1" height="3" fill="#000"/>
<text x="708.4" y="842" fill="#000" font-size="10.17" textLength="55.7" lengthAdjust="spacingAndGlyphs" text-rendering="geometricPrecision" stroke="#000" stroke-width="0.15">29 Aug 20:00</text>
<rect x="773" y="830" width="1" height="3" fill="#000"/>
<text x="772.4" y="842" fill="#000" font-size="10.17" textLength="55.7" lengthAdjust="spacingAndGlyphs" text-rendering="geometricPrecision" stroke="#000" stroke-width="0.15">30 Aug 12:00</text>
<rect x="837" y="830" width="1" height="3" fill="#000"/>
<text x="836.4" y="842" fill="#000" font-size="10.17" textLength="55.7" lengthAdjust="spacingAndGlyphs" text-rendering="geometricPrecision" stroke="#000" stroke-width="0.15">31 Aug 04:00</text>
<rect x="901" y="830" width="1" height="3" fill="#000"/>
<text x="900.4" y="842" fill="#000" font-size="10.17" textLength="55.7" lengthAdjust="spacingAndGlyphs" text-rendering="geometricPrecision" stroke="#000" stroke-width="0.15">31 Aug 20:00</text>
<rect x="965" y="830" width="1" height="3" fill="#000"/>
<text x="964.4" y="842" fill="#000" font-size="10.17" textLength="51.0" lengthAdjust="spacingAndGlyphs" text-rendering="geometricPrecision" stroke="#000" stroke-width="0.15">1 Sep 12:00</text>
<rect x="1029" y="830" width="1" height="3" fill="#000"/>
<text x="1028.4" y="842" fill="#000" font-size="10.17" textLength="51.0" lengthAdjust="spacingAndGlyphs" text-rendering="geometricPrecision" stroke="#000" stroke-width="0.15">4 Sep 04:00</text>
<rect x="1093" y="830" width="1" height="3" fill="#000"/>
<text x="1092.4" y="842" fill="#000" font-size="10.17" textLength="51.0" lengthAdjust="spacingAndGlyphs" text-rendering="geometricPrecision" stroke="#000" stroke-width="0.15">4 Sep 20:00</text>
<rect x="1157" y="830" width="1" height="3" fill="#000"/>
<text x="1156.4" y="842" fill="#000" font-size="10.17" textLength="51.0" lengthAdjust="spacingAndGlyphs" text-rendering="geometricPrecision" stroke="#000" stroke-width="0.15">5 Sep 12:00</text>
<rect x="1221" y="830" width="1" height="3" fill="#000"/>
<text x="1220.4" y="842" fill="#000" font-size="10.17" textLength="51.0" lengthAdjust="spacingAndGlyphs" text-rendering="geometricPrecision" stroke="#000" stroke-width="0.15">6 Sep 04:00</text>
<rect x="1285" y="830" width="1" height="3" fill="#000"/>
<text x="1284.4" y="842" fill="#000" font-size="10.17" textLength="51.0" lengthAdjust="spacingAndGlyphs" text-rendering="geometricPrecision" stroke="#000" stroke-width="0.15">6 Sep 20:00</text>
<g id="toolbar" shape-rendering="crispEdges">
<rect x="5" y="0" width="1" height="20" fill="#9c9c9c"/>
<rect x="241" y="0" width="1" height="22" fill="#a0a0a0"/><rect x="242" y="0" width="1" height="22" fill="#fff"/>
<rect x="245" y="0" width="3" height="1" fill="#a6a6a6"/>
<rect x="245" y="2" width="3" height="1" fill="#a6a6a6"/>
<rect x="245" y="4" width="3" height="1" fill="#a6a6a6"/>
<rect x="245" y="6" width="3" height="1" fill="#a6a6a6"/>
<rect x="245" y="8" width="3" height="1" fill="#a6a6a6"/>
<rect x="245" y="10" width="3" height="1" fill="#a6a6a6"/>
<rect x="245" y="12" width="3" height="1" fill="#a6a6a6"/>
<rect x="245" y="14" width="3" height="1" fill="#a6a6a6"/>
<rect x="245" y="16" width="3" height="1" fill="#a6a6a6"/>
<rect x="245" y="18" width="3" height="1" fill="#a6a6a6"/>
<rect x="279" y="0" width="1" height="20" fill="#9c9c9c"/>
<rect x="280" y="0" width="24" height="20" fill="#f8f8f8"/>
<rect x="336" y="0" width="1" height="20" fill="#9c9c9c"/>
<rect x="426" y="0" width="1" height="20" fill="#9c9c9c"/>
<rect x="431" y="0" width="1" height="20" fill="#9c9c9c"/>
<rect x="432" y="0" width="24" height="20" fill="#f8f8f8"/>
<rect x="459" y="0" width="1" height="20" fill="#9c9c9c"/>
<rect x="460" y="0" width="24" height="20" fill="#f8f8f8"/>
<rect x="488" y="0" width="1" height="20" fill="#9c9c9c"/>
<rect x="609" y="0" width="1" height="22" fill="#a0a0a0"/><rect x="610" y="0" width="1" height="22" fill="#fff"/>
<rect x="613" y="0" width="3" height="1" fill="#a6a6a6"/>
<rect x="613" y="2" width="3" height="1" fill="#a6a6a6"/>
<rect x="613" y="4" width="3" height="1" fill="#a6a6a6"/>
<rect x="613" y="6" width="3" height="1" fill="#a6a6a6"/>
<rect x="613" y="8" width="3" height="1" fill="#a6a6a6"/>
<rect x="613" y="10" width="3" height="1" fill="#a6a6a6"/>
<rect x="613" y="12" width="3" height="1" fill="#a6a6a6"/>
<rect x="613" y="14" width="3" height="1" fill="#a6a6a6"/>
<rect x="613" y="16" width="3" height="1" fill="#a6a6a6"/>
<rect x="613" y="18" width="3" height="1" fill="#a6a6a6"/>
<rect x="619" y="0" width="1" height="20" fill="#9c9c9c"/>
<rect x="620" y="0" width="24" height="20" fill="#f8f8f8"/>
<rect x="676" y="0" width="1" height="20" fill="#9c9c9c"/>
<rect x="915" y="0" width="1" height="22" fill="#a0a0a0"/><rect x="916" y="0" width="1" height="22" fill="#fff"/>
<rect x="919" y="0" width="3" height="1" fill="#a6a6a6"/>
<rect x="919" y="2" width="3" height="1" fill="#a6a6a6"/>
<rect x="919" y="4" width="3" height="1" fill="#a6a6a6"/>
<rect x="919" y="6" width="3" height="1" fill="#a6a6a6"/>
<rect x="919" y="8" width="3" height="1" fill="#a6a6a6"/>
<rect x="919" y="10" width="3" height="1" fill="#a6a6a6"/>
<rect x="919" y="12" width="3" height="1" fill="#a6a6a6"/>
<rect x="919" y="14" width="3" height="1" fill="#a6a6a6"/>
<rect x="919" y="16" width="3" height="1" fill="#a6a6a6"/>
<rect x="919" y="18" width="3" height="1" fill="#a6a6a6"/>
<rect x="1065" y="0" width="1" height="20" fill="#9c9c9c"/>
<rect x="1066" y="0" width="24" height="20" fill="#f8f8f8"/>
<rect x="1176" y="0" width="1" height="20" fill="#9c9c9c"/>
</g>
<g id="icons" shape-rendering="geometricPrecision">
<path d="M15.5,2.5 h8 l3.5,3.5 v10 h-11.5 z" fill="#fafafa" stroke="#8a8a8a" stroke-width="1"/>
<path d="M23.5,2.5 v3.5 h3.5" fill="#e4e4e4" stroke="#8a8a8a" stroke-width="0.8"/>
<rect x="17.5" y="5" width="3" height="1" fill="#9a9a9a"/>
<rect x="17.5" y="8" width="6" height="1" fill="#9a9a9a"/>
<rect x="17.5" y="10.5" width="6" height="1" fill="#9a9a9a"/>
<rect x="17.5" y="13" width="6" height="1" fill="#9a9a9a"/>
<path d="M23.3,8.5 h3.4 v3.8 h3.8 v3.4 h-3.8 v3.8 h-3.4 v-3.8 h-3.8 v-3.4 h3.8 z" fill="#25d425" stroke="#0c960c" stroke-width="0.9"/>
<path d="M24,9.3 h2 v3.8 h3.8 v1 h-9.6 v-1 h3.8 z" fill="#9af79a" opacity="0.75"/>
<text x="33.6" y="12.9" font-size="12" fill="#000" stroke="#000" stroke-width="0.3" textLength="36.2" lengthAdjust="spacingAndGlyphs" style="font-family:'Liberation Sans','Noto Sans CJK SC',sans-serif">新订单</text>
<path d="M82,11.8 L88.4,2.8 L98,10.2 L97.8,12.8 L90,18.4 L82.2,13.8 z" fill="#b47c10"/>
<path d="M83,11.4 L88.7,3.6 L96.8,10 L90,15.6 z" fill="#efbd22"/>
<path d="M84.4,11 L88.9,4.8 L93,8 L88.6,13 z" fill="#f9d85a"/>
<path d="M83,13 L90,17 L97.2,11.8" fill="none" stroke="#e8c878" stroke-width="0.7"/>
<path d="M112.5,3 L121,2.2 L123.5,4 L123.5,12 L114.5,12.5 L112.5,10.5 z" fill="#2f8ff0" stroke="#1d6fd0" stroke-width="0.8"/>
<path d="M115.2,4.8 L122.6,4.3 L122.6,11 L115.2,11.5 z" fill="#63b3ff"/>
<rect x="117" y="6" width="4.5" height="1.3" fill="#eaf4ff"/><rect x="117" y="8.3" width="4.5" height="1" fill="#d8ebff"/>
<path d="M113,17.5 a3,3 0 0 1 0.6,-5.9 a3.6,3.6 0 0 1 6.6,-1.2 a3,3 0 0 1 3.8,1.6 a2.8,2.8 0 0 1 -0.4,5.5 z" fill="#eef2f8" stroke="#6f8fc9" stroke-width="0.9"/>
<path d="M146,2.0999999999999996 a7.4,7.4 0 0 0 0,14.8" fill="none" stroke="#3a6fd8" stroke-width="1.3" opacity="0.45"/>
<path d="M146,2.0999999999999996 a7.4,7.4 0 0 1 0,14.8" fill="none" stroke="#48a848" stroke-width="1.3" opacity="0.45"/>
<path d="M146,4.7 a4.8,4.8 0 0 0 0,9.6" fill="none" stroke="#3a6fd8" stroke-width="1.3" opacity="0.75"/>
<path d="M146,4.7 a4.8,4.8 0 0 1 0,9.6" fill="none" stroke="#48a848" stroke-width="1.3" opacity="0.75"/>
<path d="M146,9.5 L153.3,9.5 A7.3,7.3 0 0 1 146,16.8 z" fill="#7cc47c" opacity="0.55"/>
<circle cx="146" cy="9.3" r="1.7" fill="#2f62d6"/><rect x="145.5" y="10" width="1.3" height="7.6" fill="#2fa32f"/>
<path d="M166,9 L181,9 L174,18 L170.5,15.5 z" fill="#f3cf3a" stroke="#caa21c" stroke-width="0.7"/>
<ellipse cx="173.3" cy="7" rx="8" ry="2.8" fill="#4e9ed6" stroke="#2d78b4" stroke-width="0.7"/>
<path d="M168.8,6.6 C169,0.8 177.6,0.8 177.8,6.6 C175,8 171.6,8 168.8,6.6 z" fill="#6fb6e4" stroke="#2d78b4" stroke-width="0.7"/>
<circle cx="177.4" cy="13.6" r="4.1" fill="#e02a12"/><rect x="175.6" y="11.8" width="3.6" height="3.6" fill="#fff"/>
<text x="186.6" y="12.9" font-size="12" fill="#000" stroke="#000" stroke-width="0.3" textLength="48.2" lengthAdjust="spacingAndGlyphs" style="font-family:'Liberation Sans','Noto Sans CJK SC',sans-serif">自动交易</text>
</g>
<g id="icons2" shape-rendering="geometricPrecision">
<path d="M259.5,18 V4.5 M257,15.5 H270" stroke="#5a5a5a" stroke-width="1.1" fill="none"/>
<path d="M259.5,3.6 l-1.9,2.6 h3.8 z M271.2,15.5 l-2.6,-1.9 v3.8 z" fill="#5a5a5a"/>
<path d="M265.5,5.3 V13.5 M265.5,6.4 h2.6 M265.5,12.3 h-2.6" stroke="#1a8a1a" stroke-width="1.1" fill="none"/>
<path d="M287.5,18 V4.5 M285,15.5 H298" stroke="#5a5a5a" stroke-width="1.1" fill="none"/>
<path d="M287.5,3.6 l-1.9,2.6 h3.8 z M299.2,15.5 l-2.6,-1.9 v3.8 z" fill="#5a5a5a"/>
<rect x="293" y="2.3" width="1.1" height="11.4" fill="#12a012"/>
<rect x="291.4" y="4.2" width="4.4" height="7.4" fill="#5fe05f" stroke="#12a012" stroke-width="1"/>
<path d="M315.5,18 V4.5 M313,15.5 H326" stroke="#5a5a5a" stroke-width="1.1" fill="none"/>
<path d="M315.5,3.6 l-1.9,2.6 h3.8 z M327.2,15.5 l-2.6,-1.9 v3.8 z" fill="#5a5a5a"/>
<path d="M314.2,12.6 C317,11 318.3,7.2 320.3,7.3 C322.3,7.4 323.3,10.6 325.8,11.4" stroke="#2a9a3a" stroke-width="1.2" fill="none"/>
<path d="M354.6,11.4 L360,16.6" stroke="#c89a18" stroke-width="2.6" stroke-linecap="round"/>
<path d="M355.2,11.4 L359.6,15.6" stroke="#f6d860" stroke-width="1.1" stroke-linecap="round"/>
<circle cx="351" cy="7.8" r="5.4" fill="#d9efff" stroke="#2f78d0" stroke-width="1.3"/>
<rect x="348" y="7.1" width="6" height="1.5" fill="#3a86b8"/>
<rect x="350.25" y="4.8" width="1.5" height="6" fill="#3a86b8"/>
<path d="M382.6,11.4 L388,16.6" stroke="#c89a18" stroke-width="2.6" stroke-linecap="round"/>
<path d="M383.2,11.4 L387.6,15.6" stroke="#f6d860" stroke-width="1.1" stroke-linecap="round"/>
<circle cx="379" cy="7.8" r="5.4" fill="#d9efff" stroke="#2f78d0" stroke-width="1.3"/>
<rect x="376" y="7.1" width="6" height="1.5" fill="#3a86b8"/>
<rect x="401" y="2" width="8" height="8" fill="#3ea018"/>
<path d="M402.6,5 h5 v3.6 h-1 v-1 h-3 v1 h-1 z" fill="#fff" opacity="0.95"/>
<rect x="402" y="3" width="1" height="1" fill="#fff" opacity="0.8"/>
<rect x="409" y="2" width="8" height="8" fill="#1456d6"/>
<path d="M410.6,5 h5 v3.6 h-1 v-1 h-3 v1 h-1 z" fill="#fff" opacity="0.95"/>
<rect x="410" y="3" width="1" height="1" fill="#fff" opacity="0.8"/>
<rect x="401" y="10" width="8" height="8" fill="#1456d6"/>
<path d="M402.6,13 h5 v3.6 h-1 v-1 h-3 v1 h-1 z" fill="#fff" opacity="0.95"/>
<rect x="402" y="11" width="1" height="1" fill="#fff" opacity="0.8"/>
<rect x="409" y="10" width="8" height="8" fill="#3ea018"/>
<path d="M410.6,13 h5 v3.6 h-1 v-1 h-3 v1 h-1 z" fill="#fff" opacity="0.95"/>
<rect x="410" y="11" width="1" height="1" fill="#fff" opacity="0.8"/>
<path d="M439.5,18 V4.5 M437,15.5 H450" stroke="#5a5a5a" stroke-width="1.1" fill="none"/>
<path d="M439.5,3.6 l-1.9,2.6 h3.8 z M451.2,15.5 l-2.6,-1.9 v3.8 z" fill="#5a5a5a"/>
<path d="M444.3,6 L447.9,9.5 L444.3,13 z" fill="#5fe05f" stroke="#12a012" stroke-width="0.9"/>
<path d="M467.5,18 V4.5 M465,15.5 H478" stroke="#5a5a5a" stroke-width="1.1" fill="none"/>
<path d="M467.5,3.6 l-1.9,2.6 h3.8 z M479.2,15.5 l-2.6,-1.9 v3.8 z" fill="#5a5a5a"/>
<rect x="473" y="4" width="1.2" height="9.8" fill="#1a6aa0"/>
<path d="M474.6,9.5 L477.4,7.2 L477,9 L479.2,9 L479.2,10 L477,10 L477.4,11.8 z" fill="#e05a10"/>
<path d="M498.5,2.5 h8 l3.5,3.5 v10 h-11.5 z" fill="#fafafa" stroke="#8a8a8a" stroke-width="1"/>
<path d="M506.5,2.5 v3.5 h3.5" fill="#e4e4e4" stroke="#8a8a8a" stroke-width="0.8"/>
<path d="M503.8,5.2 c-2,-0.4 -2.2,0.8 -2.2,2.4 v6.2 M500.4,9 h2.6" stroke="#6a5a2a" stroke-width="1" fill="none"/>
<path d="M506.5,8.5 h3.4 v3.8 h3.8 v3.4 h-3.8 v3.8 h-3.4 v-3.8 h-3.8 v-3.4 h3.8 z" fill="#25d425" stroke="#0c960c" stroke-width="0.9"/>
<path d="M507.2,9.3 h2 v3.8 h3.8 v1 h-9.6 v-1 h3.8 z" fill="#9af79a" opacity="0.75"/>
<polygon points="519.6,9 525.2,9 522.4,12.2" fill="#000"/>
<circle cx="544" cy="10" r="6.8" fill="#fafcff" stroke="#1268d2" stroke-width="2.4"/>
<circle cx="544" cy="10" r="6.6" fill="none" stroke="#4a9af0" stroke-width="0.9"/>
<path d="M543.6,6 V10.4 L546.6,9.6" stroke="#333" stroke-width="1.1" fill="none"/>
<rect x="543.6" y="4.6" width="0.8" height="0.8" fill="#8aa"/>
<rect x="543.6" y="14.6" width="0.8" height="0.8" fill="#8aa"/>
<rect x="538.6" y="9.6" width="0.8" height="0.8" fill="#8aa"/>
<rect x="548.6" y="9.6" width="0.8" height="0.8" fill="#8aa"/>
<polygon points="558.6,9 564.2,9 561.4,12.2" fill="#000"/>
<rect x="575.5" y="3.5" width="15" height="13" fill="#fff" stroke="#2f6fc4" stroke-width="1.2"/>
<rect x="575" y="3" width="16" height="2" fill="#5a9ae6"/><rect x="576" y="10" width="14" height="0.9" fill="#2f6fc4"/>
<path d="M577.5,9 L580,8.8 L582,7.2 L584,8.4 L586.5,8.2 L589,7" stroke="#b02a10" stroke-width="1.2" fill="none"/>
<path d="M578,14.6 L580.5,13.6 L582.5,14.6 L585,12.2 L587,13 L588.6,15" stroke="#1a9a3a" stroke-width="1.1" fill="none"/>
<polygon points="597.6,9 603.2,9 600.4,12.2" fill="#000"/>
<path d="M627.3,2.6 V14 L630.1,11.4 L632.4,17 L634,16.3 L631.8,10.9 L635.3,10.4 z" fill="#5a5a5a"/>
<path d="M652,10.4 H658 M660.8,10.4 H667 M659.4,2.8 V9 M659.4,11.8 V18" stroke="#5a5a5a" stroke-width="1.1" fill="none"/><rect x="659" y="10" width="0.9" height="0.9" fill="#5a5a5a"/>
<path d="M693.5,4 V17 M716,10.4 H728 M744.3,17 L755.8,4.8" stroke="#5a5a5a" stroke-width="1.15" fill="none"/>
<path d="M770,12 L779,3.6 M771.6,16.6 L783,6.4 M775,17 L784,8.6" stroke="#5a5a5a" stroke-width="1.1" fill="none"/>
<path d="M772.5,15.5 L774,9 L776,13 L777.5,6.8 L779.5,10.6 L781.6,2.5 L782.6,8.5" stroke="#5a5a5a" stroke-width="1.1" fill="none"/>
<text x="781" y="18.8" font-size="6.6" font-weight="bold" fill="#222">E</text>
<path d="M799,3.4 H812.6" stroke="#5a5a5a" stroke-width="1" stroke-dasharray="1 1" fill="none"/>
<path d="M799,6.3 H812.6" stroke="#5a5a5a" stroke-width="1" stroke-dasharray="1 1" fill="none"/>
<path d="M799,10.3 H812.6" stroke="#5a5a5a" stroke-width="1" stroke-dasharray="1 1" fill="none"/>
<path d="M799,14.5 H808" stroke="#5a5a5a" stroke-width="1" stroke-dasharray="1 1" fill="none"/>
<text x="808.8" y="18.8" font-size="6.6" font-weight="bold" fill="#222">F</text>
<text x="829.6" y="15" font-size="12.6" fill="#5a5a5a" stroke="#5a5a5a" stroke-width="0.25">A</text>
<g shape-rendering="crispEdges"><rect x="856" y="4" width="1" height="1" fill="#5a5a5a"/><rect x="856" y="16" width="1" height="1" fill="#5a5a5a"/><rect x="858" y="4" width="1" height="1" fill="#5a5a5a"/><rect x="858" y="16" width="1" height="1" fill="#5a5a5a"/><rect x="860" y="4" width="1" height="1" fill="#5a5a5a"/><rect x="860" y="16" width="1" height="1" fill="#5a5a5a"/><rect x="862" y="4" width="1" height="1" fill="#5a5a5a"/><rect x="862" y="16" width="1" height="1" fill="#5a5a5a"/><rect x="864" y="4" width="1" height="1" fill="#5a5a5a"/><rect x="864" y="16" width="1" height="1" fill="#5a5a5a"/><rect x="866" y="4" width="1" height="1" fill="#5a5a5a"/><rect x="866" y="16" width="1" height="1" fill="#5a5a5a"/><rect x="868" y="4" width="1" height="1" fill="#5a5a5a"/><rect x="868" y="16" width="1" height="1" fill="#5a5a5a"/><rect x="856" y="6" width="1" height="1" fill="#5a5a5a"/><rect x="868" y="6" width="1" height="1" fill="#5a5a5a"/><rect x="856" y="8" width="1" height="1" fill="#5a5a5a"/><rect x="868" y="8" width="1" height="1" fill="#5a5a5a"/><rect x="856" y="10" width="1" height="1" fill="#5a5a5a"/><rect x="868" y="10" width="1" height="1" fill="#5a5a5a"/><rect x="856" y="12" width="1" height="1" fill="#5a5a5a"/><rect x="868" y="12" width="1" height="1" fill="#5a5a5a"/><rect x="856" y="14" width="1" height="1" fill="#5a5a5a"/><rect x="868" y="14" width="1" height="1" fill="#5a5a5a"/></g>
<path d="M858.2,7.8 H865.8 M862,7.8 V14.8" stroke="#5a5a5a" stroke-width="1.3" fill="none"/>
<path d="M883,7.8 L886.6,4 L890.2,7.8 z M890,12.8 L897,12.8 L893.5,17 z" fill="#5a5a5a"/>
<path d="M885.6,11.6 L887.6,13.6 L891.8,8.6" stroke="#5a5a5a" stroke-width="1.2" fill="none"/>
<polygon points="903.8,9 909.4,9 906.5999999999999,12.2" fill="#000"/>
<text x="930.6" y="14" font-size="10.17" text-rendering="geometricPrecision" fill="#3c3c3c" stroke="#3c3c3c" stroke-width="0.15" textLength="12.6" lengthAdjust="spacingAndGlyphs">M1</text>
<text x="958.8" y="14" font-size="10.17" text-rendering="geometricPrecision" fill="#3c3c3c" stroke="#3c3c3c" stroke-width="0.15" textLength="12.6" lengthAdjust="spacingAndGlyphs">M5</text>
<text x="984.2" y="14" font-size="10.17" text-rendering="geometricPrecision" fill="#3c3c3c" stroke="#3c3c3c" stroke-width="0.15" textLength="18.6" lengthAdjust="spacingAndGlyphs">M15</text>
<text x="1012.4" y="14" font-size="10.17" text-rendering="geometricPrecision" fill="#3c3c3c" stroke="#3c3c3c" stroke-width="0.15" textLength="18.2" lengthAdjust="spacingAndGlyphs">M30</text>
<text x="1043.8" y="14" font-size="10.17" text-rendering="geometricPrecision" fill="#3c3c3c" stroke="#3c3c3c" stroke-width="0.15" textLength="11.6" lengthAdjust="spacingAndGlyphs">H1</text>
<text x="1070.7" y="14" font-size="10.17" text-rendering="geometricPrecision" fill="#3c3c3c" stroke="#3c3c3c" stroke-width="0.15" textLength="12.6" lengthAdjust="spacingAndGlyphs">H4</text>
<text x="1099.5" y="14" font-size="10.17" text-rendering="geometricPrecision" fill="#3c3c3c" stroke="#3c3c3c" stroke-width="0.15" textLength="11.8" lengthAdjust="spacingAndGlyphs">D1</text>
<text x="1127.2" y="14" font-size="10.17" text-rendering="geometricPrecision" fill="#3c3c3c" stroke="#3c3c3c" stroke-width="0.15" textLength="14" lengthAdjust="spacingAndGlyphs">W1</text>
<text x="1153.8" y="14" font-size="10.17" text-rendering="geometricPrecision" fill="#3c3c3c" stroke="#3c3c3c" stroke-width="0.15" textLength="14.8" lengthAdjust="spacingAndGlyphs">MN</text>
<path d="M1643.4,10.6 L1639.6,14.4" stroke="#2a5fd0" stroke-width="2.4" stroke-linecap="round"/>
<circle cx="1646.6" cy="7.4" r="3.8" fill="#f4f8ff" stroke="#2658cc" stroke-width="1.3"/>
<path d="M1669,17.2 a5.6,4.6 0 1 1 3,-0.4 l-4.6,2 z" fill="#dcdce4" stroke="#b8b8c4" stroke-width="0.8"/>
<defs><linearGradient id="bg" x1="0" y1="0" x2="0" y2="1"><stop offset="0" stop-color="#ea5a3c"/><stop offset="1" stop-color="#d42614"/></linearGradient></defs>
<circle cx="1677.6" cy="7.4" r="8.1" fill="url(#bg)"/>
<text x="1673.4" y="12.2" font-size="13" fill="#fff">1</text>
</g>
</svg>
</body></html>
